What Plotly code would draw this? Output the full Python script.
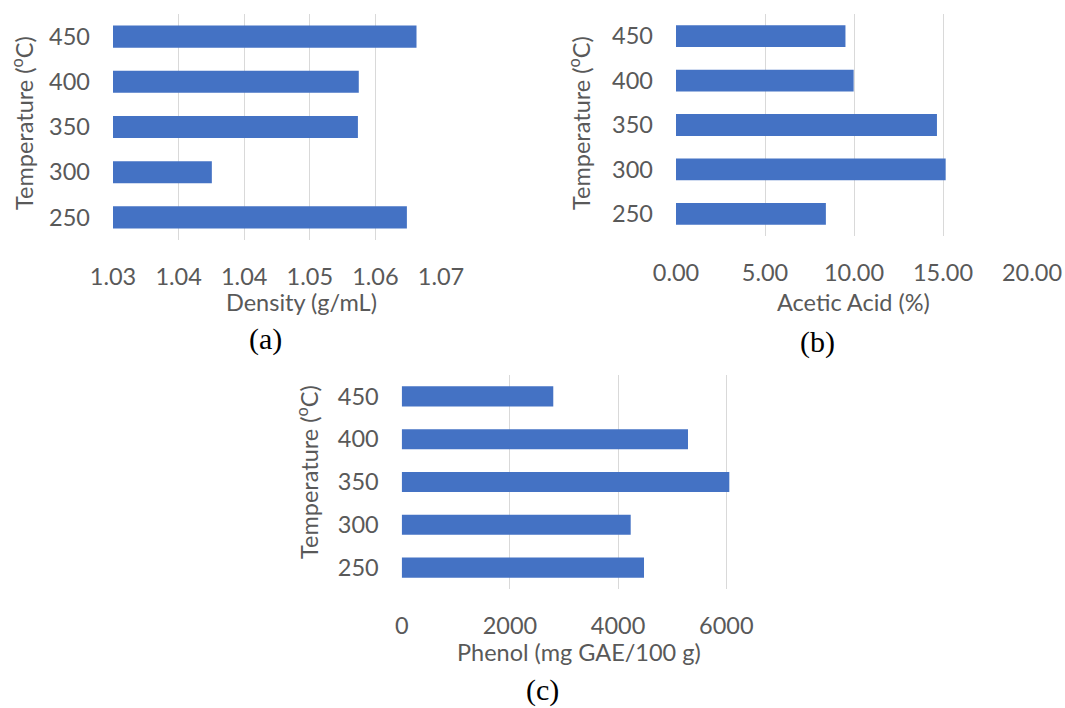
import plotly.graph_objects as go

temperatures = ["250", "300", "350", "400", "450"]
density = [1.0636, 1.0413, 1.0580, 1.0581, 1.0647]
acetic_acid = [8.42, 15.15, 14.66, 9.98, 9.52]
phenol = [4479, 4233, 6056, 5292, 2802]

density_ticks = [1.03, 1.0375, 1.045, 1.0525, 1.06, 1.0675]
density_ticktext = ["1.03", "1.04", "1.04", "1.05", "1.06", "1.07"]
acid_ticks = [0, 5, 10, 15, 20]
acid_ticktext = ["0.00", "5.00", "10.00", "15.00", "20.00"]
phenol_ticks = [0, 2000, 4000, 6000]
phenol_ticktext = ["0", "2000", "4000", "6000"]

W, H = 1065, 708
BAR = "#4472c4"
TXT = "#595959"
GRID = "#d9d9d9"
FONT = "Lato"
TICK_SIZE = 23.5
TITLE_SIZE = 23.5


def px_x(p):
    return p / W


def px_y(p):
    return 1 - p / H


fig = go.Figure()

panels = [
    (density, "x", "y", (113, 441), (14, 240), [1.03, 1.0675], density_ticks, density_ticktext, 0.49, 1.03),
    (acetic_acid, "x2", "y2", (676, 1032), (14, 236), [0, 20], acid_ticks, acid_ticktext, 0.49, 0),
    (phenol, "x3", "y3", (401.7, 731.7), (375, 589), [0, 6100], phenol_ticks, phenol_ticktext, 0.47, 0),
]

for i, (vals, xa, ya, xd, yd, rng, tv, tt, bw, base) in enumerate(panels):
    fig.add_trace(go.Bar(
        x=[v - base for v in vals], y=temperatures, base=base, orientation="h",
        xaxis=xa, yaxis=ya, customdata=vals,
        hovertemplate="%{y}: %{customdata}<extra></extra>",
        marker=dict(color=BAR, line=dict(width=0)), width=bw, showlegend=False,
    ))
    sfx = "" if i == 0 else str(i + 1)
    fig.layout["xaxis" + sfx] = dict(
        domain=[px_x(xd[0]), px_x(xd[1])], range=rng, anchor=ya,
        tickvals=tv, ticktext=tt, showgrid=True, gridcolor=GRID, gridwidth=1,
        zeroline=False, showline=False, ticks="", automargin=False,
        ticklabeloverflow="allow",
        tickfont=dict(family=FONT, size=TICK_SIZE, color=TXT), ticklabelstandoff=20,
        fixedrange=True,
    )
    fig.layout["yaxis" + sfx] = dict(
        domain=[px_y(yd[1]), px_y(yd[0])], range=[-0.5, 4.5], anchor=xa,
        type="category", categoryorder="array", categoryarray=temperatures,
        showgrid=False, zeroline=False, showline=False, ticks="", automargin=False,
        tickfont=dict(family=FONT, size=TICK_SIZE, color=TXT), ticklabelstandoff=22,
        fixedrange=True,
    )

annotations = [
    ("Density (g/mL)", 301, 302, 0, TITLE_SIZE, FONT, TXT),
    ("Acetic Acid (%)", 853, 302, 0, TITLE_SIZE, FONT, TXT),
    ("Phenol (mg GAE/100 g)", 579, 652, 0, TITLE_SIZE, FONT, TXT),
    ("Temperature (<sup>o</sup>C)", 23, 123, -90, TITLE_SIZE, FONT, TXT),
    ("Temperature (<sup>o</sup>C)", 580, 123, -90, TITLE_SIZE, FONT, TXT),
    ("Temperature (<sup>o</sup>C)", 307, 472, -90, TITLE_SIZE, FONT, TXT),
    ("(a)", 265, 339, 0, 30, "Liberation Serif", "#000000"),
    ("(b)", 817, 342, 0, 30, "Liberation Serif", "#000000"),
    ("(c)", 542, 690, 0, 30, "Liberation Serif", "#000000"),
]
for text, x, y, ang, size, fam, col in annotations:
    fig.add_annotation(
        text=text, x=px_x(x), y=px_y(y), xref="paper", yref="paper",
        xanchor="center", yanchor="middle", showarrow=False, textangle=ang,
        font=dict(family=fam, size=size, color=col),
    )

fig.update_layout(
    width=W, height=H, margin=dict(l=0, r=0, t=0, b=0),
    paper_bgcolor="white", plot_bgcolor="white", bargap=0.5,
)

fig.write_html(
    "out.html",
    config={"displayModeBar": False},
    post_script="document.body.style.margin='0';document.body.style.overflow='hidden';",
)
